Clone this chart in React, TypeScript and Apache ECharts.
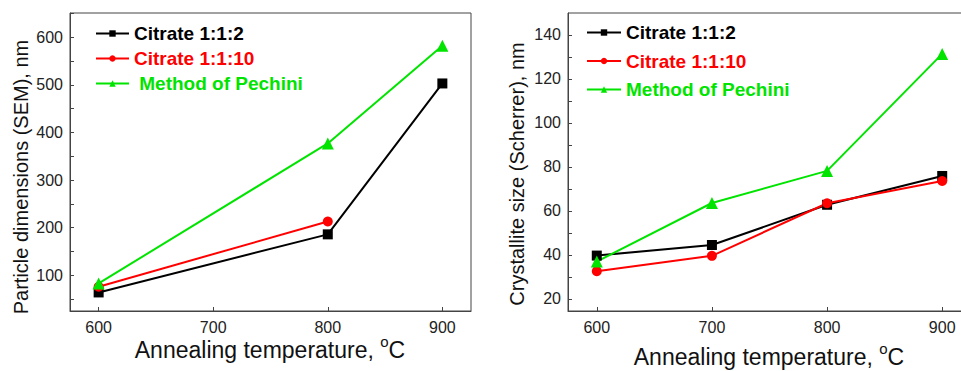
import React, { useEffect, useRef } from "react";
import * as echarts from "echarts";

// Left panel: particle dimensions (SEM)
const semTemps = [600, 800, 900];
const semCitrate112 = [64, 186, 503];
const semCitrate1110 = [76, 213];
const semPechini = [83, 377, 582];
const semYLabels = [100, 200, 300, 400, 500, 600];
const semYTicks = [50, 100, 150, 200, 250, 300, 350, 400, 450, 500, 550, 600, 650];

// Right panel: crystallite size (Scherrer)
const xrdTemps = [600, 700, 800, 900];
const xrdCitrate112 = [39.7, 44.5, 62.8, 75.9];
const xrdCitrate1110 = [32.6, 39.6, 63.5, 73.6];
const xrdPechini = [37, 63.6, 78.2, 131.4];
const xrdYLabels = [20, 40, 60, 80, 100, 120, 140];
const xrdYTicks = [20, 30, 40, 50, 60, 70, 80, 90, 100, 110, 120, 130, 140];

const xLabels = [600, 700, 800, 900];

const seriesNames = ["Citrate 1:1:2", "Citrate 1:1:10", "Method of Pechini"];
const colors = ["#000000", "#ff0000", "#00e400"];
const symbols = ["rect", "circle", "triangle"];
const symbolSizes = [10, 10, 12];

const FONT = "Liberation Sans, Arial, sans-serif";
const AXIS_COLOR = "#444";

function pairs(xs: number[], ys: number[]) {
  return ys.map((y, i) => [xs[i], y]);
}

export default function App() {
  const ref = useRef<HTMLDivElement>(null);
  useEffect(() => {
    if (!ref.current) return;
    const chart = echarts.init(ref.current, null, { renderer: "svg" });

    const xAxisBase = (gridIndex: number) => ({
      type: "value",
      gridIndex,
      min: 575,
      max: 925,
      axisLine: { show: true, lineStyle: { color: AXIS_COLOR, width: 1 } },
      axisTick: { show: true, inside: true, length: 4, customValues: xLabels, lineStyle: { color: AXIS_COLOR } },
      axisLabel: { show: true, customValues: xLabels, color: "#222", fontSize: 16, fontFamily: FONT, margin: 8 },
      splitLine: { show: false },
    });

    const yAxisBase = (gridIndex: number, min: number, max: number, labels: number[], ticks: number[]) => ({
      type: "value",
      gridIndex,
      min,
      max,
      axisLine: { show: true, lineStyle: { color: AXIS_COLOR, width: 1 } },
      axisTick: { show: true, inside: true, length: 4, customValues: ticks, lineStyle: { color: AXIS_COLOR } },
      axisLabel: { show: true, customValues: labels, color: "#222", fontSize: 16, fontFamily: FONT, margin: 7 },
      splitLine: { show: false },
    });

    const mk = (idx: number, name: number, data: number[][]) => ({
      type: "line",
      name: seriesNames[name],
      xAxisIndex: idx,
      yAxisIndex: idx,
      data,
      color: colors[name],
      symbol: symbols[name],
      symbolSize: symbolSizes[name],
      showSymbol: true,
      lineStyle: { width: 2, color: colors[name] },
      itemStyle: { color: colors[name] },
      emphasis: { disabled: true },
    });

    const legendData = seriesNames.map((n, i) => ({ name: n, textStyle: { color: colors[i] } }));

    const xTitle = (x: number, y: number) => ({
      type: "text",
      x,
      y,
      style: {
        text: "Annealing temperature, {sup|o}C",
        font: `23px ${FONT}`,
        lineHeight: 32,
        fill: "#111",
        align: "center",
        verticalAlign: "middle",
        rich: {
          sup: { fontSize: 15, fontFamily: FONT, fill: "#111", verticalAlign: "top", lineHeight: 13 },
        },
      },
    });

    const yTitle = (x: number, y: number, text: string) => ({
      type: "text",
      x,
      y,
      rotation: Math.PI / 2,
      style: {
        text,
        font: `20px ${FONT}`,
        fill: "#111",
        align: "center",
        verticalAlign: "middle",
      },
    });

    chart.setOption({
      animation: false,
      backgroundColor: "#ffffff",
      textStyle: { fontFamily: FONT },
      grid: [
        { left: 70, top: 13, width: 401, height: 298, show: true, borderColor: AXIS_COLOR, borderWidth: 1, backgroundColor: "transparent" },
        { left: 568, top: 13, width: 403, height: 298, show: true, borderColor: AXIS_COLOR, borderWidth: 1, backgroundColor: "transparent" },
      ],
      xAxis: [xAxisBase(0), xAxisBase(1)],
      yAxis: [
        yAxisBase(0, 25, 651, semYLabels, semYTicks),
        yAxisBase(1, 14.5, 150, xrdYLabels, xrdYTicks),
      ],
      legend: [
        {
          orient: "vertical",
          left: 90,
          top: 19,
          itemWidth: 33,
          itemHeight: 8,
          itemGap: 6,
          selectedMode: false,
          data: legendData,
          formatter: (n: string) => (n === "Method of Pechini" ? " " + n : n),
          textStyle: { fontSize: 19, fontWeight: "bold", fontFamily: FONT },
        },
        {
          orient: "vertical",
          left: 581,
          top: 18,
          itemWidth: 34,
          itemHeight: 8,
          itemGap: 9.5,
          selectedMode: false,
          data: legendData,
          textStyle: { fontSize: 19, fontWeight: "bold", fontFamily: FONT },
        },
      ],
      series: [
        mk(0, 0, pairs(semTemps, semCitrate112)),
        mk(0, 1, pairs(semTemps, semCitrate1110)),
        mk(0, 2, pairs(semTemps, semPechini)),
        mk(1, 0, pairs(xrdTemps, xrdCitrate112)),
        mk(1, 1, pairs(xrdTemps, xrdCitrate1110)),
        mk(1, 2, pairs(xrdTemps, xrdPechini)),
      ],
      graphic: [
        xTitle(270, 350),
        xTitle(769, 357),
        yTitle(21, 177, "Particle dimensions (SEM), nm"),
        yTitle(517, 174, "Crystallite size (Scherrer), nm"),
      ],
    });

    return () => chart.dispose();
  }, []);

  return (
    <div style={{ position: "fixed", left: 0, top: 0, width: 961, height: 371, overflow: "hidden", background: "#fff" }}>
      <div ref={ref} style={{ width: 985, height: 371 }} />
    </div>
  );
}
